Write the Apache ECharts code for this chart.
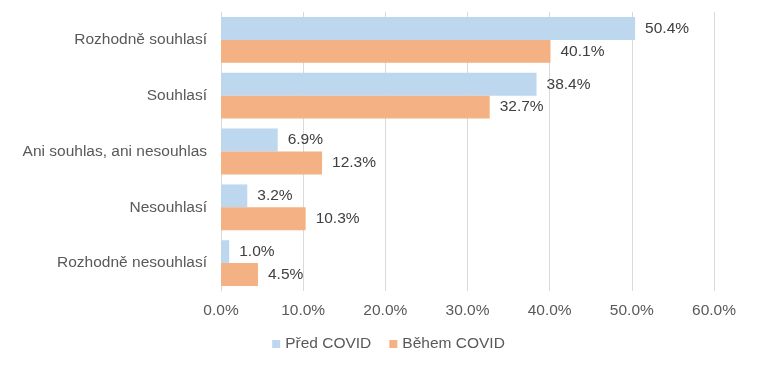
<!DOCTYPE html>
<html><head><meta charset="utf-8">
<script src="https://cdn.jsdelivr.net/npm/echarts@6/dist/echarts.min.js"></script>
<style>html,body{margin:0;padding:0;background:#fff}#c{width:777px;height:366px}</style>
</head><body><div id="c"></div>
<script>
const categories = ["Rozhodně souhlasí", "Souhlasí", "Ani souhlas, ani nesouhlas", "Nesouhlasí", "Rozhodně nesouhlasí"];
const seriesNames = ["Před COVID", "Během COVID"];
const predCovid = [50.4, 38.4, 6.9, 3.2, 1.0];
const behemCovid = [40.1, 32.7, 12.3, 10.3, 4.5];
const xTicks = [0, 10, 20, 30, 40, 50, 60];

const chart = echarts.init(document.getElementById('c'), null, {renderer: 'canvas'});
const font = '"Liberation Sans", Arial, sans-serif';
const fs = 15.5;
const labelCfg = {show: true, position: 'right', distance: 10, color: '#404040', fontSize: fs, fontFamily: font,
  formatter: p => p.value.toFixed(1) + '%'};
chart.setOption({
  animation: false,
  textStyle: {fontFamily: font},
  grid: {left: 221, right: 63, top: 12, bottom: 75, containLabel: false},
  legend: {bottom: 9, left: 'center', itemWidth: 8, itemHeight: 8, itemGap: 18, icon: 'rect',
    textStyle: {color: '#595959', fontSize: fs, fontFamily: font}, data: seriesNames},
  xAxis: {type: 'value', min: xTicks[0], max: xTicks[xTicks.length - 1], interval: 10,
    axisLine: {show: false}, axisTick: {show: false},
    splitLine: {lineStyle: {color: '#D9D9D9', width: 1}},
    axisLabel: {color: '#595959', fontSize: fs, margin: 12, formatter: v => v.toFixed(1) + '%'}},
  yAxis: {type: 'category', data: categories, inverse: true,
    axisLine: {show: true, lineStyle: {color: '#D9D9D9'}}, axisTick: {show: false},
    axisLabel: {color: '#595959', fontSize: fs, margin: 14}},
  series: [
    {name: seriesNames[0], type: 'bar', data: predCovid, barGap: '0%', barCategoryGap: '18%',
      itemStyle: {color: '#BDD7EE'}, label: labelCfg},
    {name: seriesNames[1], type: 'bar', data: behemCovid, barGap: '0%', barCategoryGap: '18%',
      itemStyle: {color: '#F4B183'}, label: labelCfg}
  ]
});
</script></body></html>
